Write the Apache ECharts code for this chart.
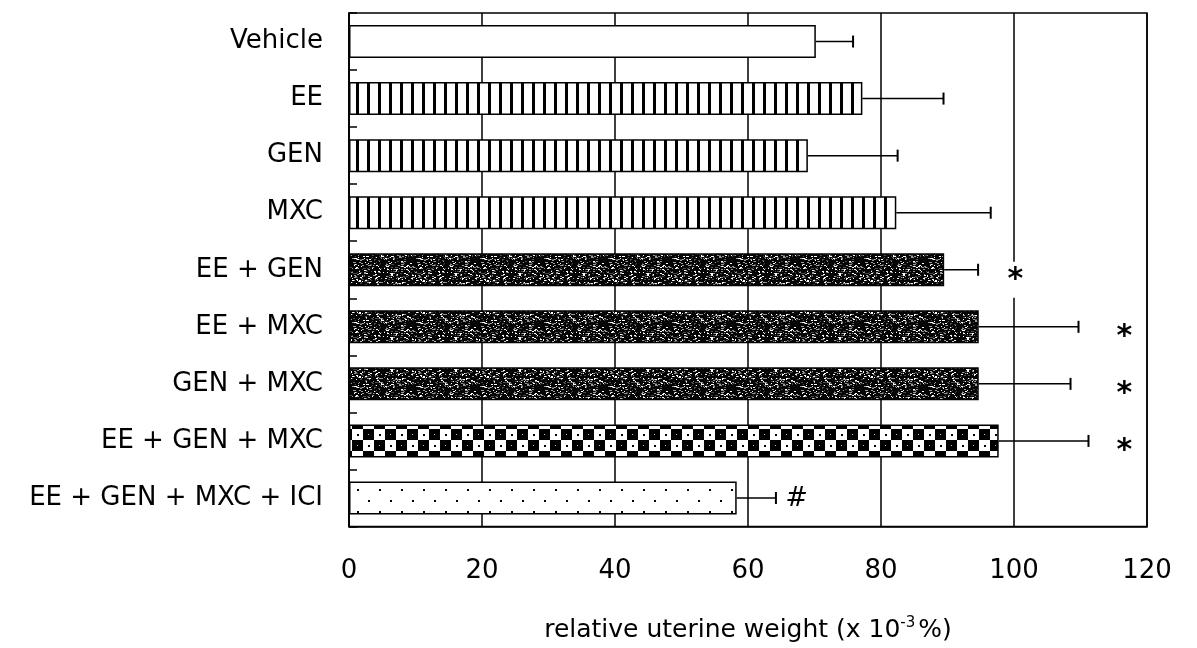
<!DOCTYPE html>
<html>
<head>
<meta charset="utf-8">
<script src="https://cdn.jsdelivr.net/npm/echarts@6/dist/echarts.min.js"></script>
<style>
html,body{margin:0;padding:0;background:#fff;}
#chart{width:1197px;height:648px;}
</style>
</head>
<body>
<div id="chart"></div>
<script>
// ---- data ----
const categories = ['Vehicle','EE','GEN','MXC','EE + GEN','EE + MXC','GEN + MXC','EE + GEN + MXC','EE + GEN + MXC + ICI'];
const meanValues = [70.2, 77.2, 69.0, 82.3, 89.5, 94.7, 94.7, 97.7, 58.3];
const errorValues = [5.6, 12.2, 13.5, 14.2, 5.1, 15.0, 13.8, 13.5, 5.9];
const patternKinds = ['plain','stripes','stripes','stripes','dark','dark','dark','checker','dots'];
const markerCategory = [4, 5, 6, 7, 8];
const markerX = [100.2, 116.6, 116.6, 116.6, 67.3];
const markerText = ['*', '*', '*', '*', '#'];
const xTicks = {min: 0, max: 120, interval: 20};

// ---- fill textures ----
function makeCanvas(w, h, draw) {
  const c = document.createElement('canvas');
  c.width = w; c.height = h;
  const ctx = c.getContext('2d');
  draw(ctx, w, h);
  return c;
}
const textures = {
  plain: '#ffffff',
  stripes: {image: makeCanvas(11, 20, (ctx, w, h) => {
    ctx.fillStyle = '#fff'; ctx.fillRect(0, 0, w, h);
    ctx.fillStyle = '#000'; ctx.fillRect(4, 0, 3, h);
  }), repeat: 'repeat'},
  dark: {image: makeCanvas(64, 32, (ctx, w, h) => {
    ctx.fillStyle = '#050505'; ctx.fillRect(0, 0, w, h);
    let s = 987654;
    const next = () => { s = (Math.imul(s, 1103515245) + 12345) >>> 0; return s >>> 16; };
    for (let i = 0; i < 400; i++) {
      const x = next() % w;
      const y = next() % h;
      const k = next() % 3;
      ctx.fillStyle = k === 0 ? '#ffffff' : (k === 1 ? '#9a9a9a' : '#4a4a4a');
      ctx.fillRect(x, y, 1 + (next() % 2), 1);
    }
  }), repeat: 'repeat'},
  checker: {image: makeCanvas(22, 22, (ctx, w, h) => {
    ctx.fillStyle = '#fff'; ctx.fillRect(0, 0, w, h);
    ctx.fillStyle = '#000';
    ctx.fillRect(0, 0, 11, 11); ctx.fillRect(11, 11, 11, 11);
    ctx.fillRect(16, 5, 2, 2); ctx.fillRect(5, 16, 2, 2);
    ctx.fillStyle = '#bbb';
    ctx.fillRect(5, 5, 1, 1); ctx.fillRect(16, 16, 1, 1);
  }), repeat: 'repeat'},
  dots: {image: makeCanvas(22, 22, (ctx, w, h) => {
    ctx.fillStyle = '#fff'; ctx.fillRect(0, 0, w, h);
    ctx.fillStyle = '#000';
    ctx.fillRect(5, 5, 2, 2); ctx.fillRect(16, 16, 2, 2);
  }), repeat: 'repeat'}
};

const FONT = 'DejaVu Sans';
const chart = echarts.init(document.getElementById('chart'), null, {renderer: 'canvas'});

const barData = meanValues.map((v, i) => ({
  value: v,
  itemStyle: {color: textures[patternKinds[i]]}
}));
const errData = meanValues.map((v, i) => [v, i, v + errorValues[i]]);
const markerData = markerText.map((t, i) => [markerX[i], markerCategory[i], t]);

chart.setOption({
  animation: false,
  backgroundColor: '#fff',
  grid: {left: 349, right: 50, top: 13, bottom: 120, show: true, borderColor: '#000', borderWidth: 1.5, backgroundColor: 'transparent'},
  xAxis: {
    type: 'value', min: xTicks.min, max: xTicks.max, interval: xTicks.interval,
    axisLine: {show: true, lineStyle: {color: '#000', width: 1.5}},
    axisTick: {show: false},
    splitLine: {show: true, lineStyle: {color: '#000', width: 1.5}},
    axisLabel: {color: '#000', fontSize: 26, fontFamily: FONT, margin: 32},
    name: 'relative uterine weight (x 10{s|-3}%)',
    nameLocation: 'middle', nameGap: 89,
    nameTextStyle: {
      color: '#000', fontSize: 25, fontFamily: FONT,
      rich: {s: {fontSize: 15, fontFamily: FONT, color: '#000', padding: [0, 3, 15, 0]}}
    }
  },
  yAxis: {
    type: 'category', data: categories, inverse: true,
    axisLine: {show: true, lineStyle: {color: '#000', width: 1.5}},
    axisTick: {show: true, inside: true, length: 8, lineStyle: {color: '#000', width: 1.5}},
    axisLabel: {color: '#000', fontSize: 26, fontFamily: FONT, margin: 26},
    splitLine: {show: false}
  },
  series: [
    {
      type: 'bar', data: barData, barWidth: 33, z: 3,
      itemStyle: {borderColor: '#000', borderWidth: 1.5}
    },
    {
      type: 'custom', z: 4, data: errData,
      renderItem: function (params, api) {
        const cat = api.value(1);
        const p0 = api.coord([api.value(0), cat]);
        const p1 = api.coord([api.value(2), cat]);
        return {
          type: 'group',
          children: [
            {type: 'line', shape: {x1: p0[0], y1: p0[1], x2: p1[0], y2: p1[1]}, style: {stroke: '#000', lineWidth: 1.5}},
            {type: 'line', shape: {x1: p1[0], y1: p1[1] - 6, x2: p1[0], y2: p1[1] + 6}, style: {stroke: '#000', lineWidth: 2}}
          ]
        };
      }
    },
    {
      type: 'custom', z: 5, data: markerData,
      renderItem: function (params, api) {
        const p = api.coord([api.value(0), api.value(1)]);
        const txt = markerText[params.dataIndex];
        const isStar = txt === '*';
        return {
          type: 'text',
          x: p[0], y: p[1] + (isStar ? 10 : 1),
          style: {
            text: txt, fill: '#000', fontFamily: FONT,
            fontSize: isStar ? 30 : 27,
            fontWeight: isStar ? 'bold' : 'normal',
            fontStyle: isStar ? 'normal' : 'italic',
            align: 'center', verticalAlign: 'middle',
            backgroundColor: (isStar && params.dataIndex === 0) ? '#fff' : null,
            padding: isStar ? [6, 2, 0, 2] : 0
          }
        };
      }
    }
  ]
});
</script>
</body>
</html>
